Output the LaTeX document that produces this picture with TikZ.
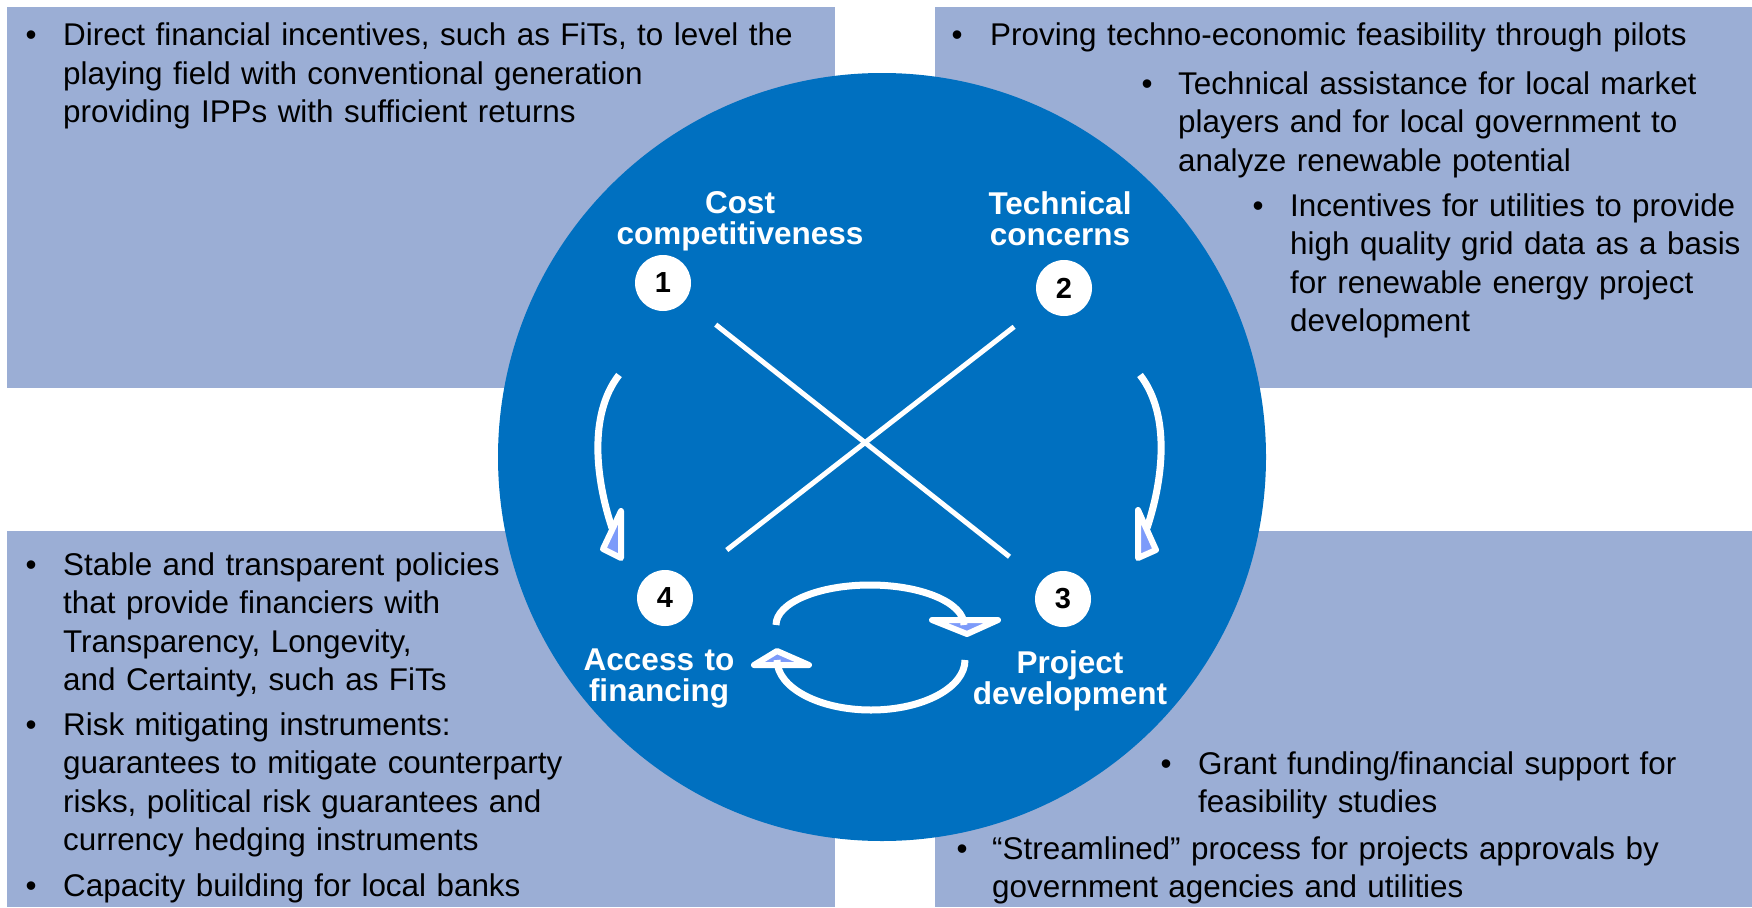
\documentclass[tikz,border=0pt]{standalone}
\usepackage{fontspec}
\setmainfont{Liberation Sans}

\definecolor{boxblue}{RGB}{155,174,213}
\definecolor{discblue}{RGB}{0,112,192}
\definecolor{tipblue}{RGB}{125,155,250}

\begin{document}
\begin{tikzpicture}[x=1pt,y=-1pt,
    panel/.style={fill=boxblue},
    item/.style={anchor=base west, inner sep=0pt, text width=800pt, align=left, font=\fontsize{31.4}{38.5}\selectfont},
    dot/.style={anchor=base, inner sep=0pt, font=\fontsize{31.4}{38.5}\selectfont},
    stage/.style={anchor=base, inner sep=0pt, text width=300pt, align=center, text=white, font=\fontsize{31.5}{31}\selectfont\bfseries},
    num/.style={circle, fill=white, minimum size=56pt, inner sep=0pt, font=\fontsize{29}{29}\selectfont\bfseries},
    link/.style={white, line width=5pt},
    curl/.style={white, line width=7pt},
    tiphead/.style={draw=white, fill=tipblue, line width=6pt, line join=round}]
    \useasboundingbox (0,0) rectangle (1752,907);
    \fill[panel] (7,7) rectangle (835,388);
    \fill[panel] (935,7) rectangle (1752,388);
    \fill[panel] (7,531) rectangle (835,907);
    \fill[panel] (935,531) rectangle (1752,907);
    \fill[discblue] (882,457) circle[radius=384];

    \node[dot] (tl1d) at (31,46) {\textbullet};
    \node[item] (tl1) at (63,46) {Direct financial incentives, such as FiTs, to level the\\playing field with conventional generation\\providing IPPs with sufficient returns};

    \node[dot] (tr1d) at (957,46) {\textbullet};
    \node[item] (tr1) at (990,46) {Proving techno-economic feasibility through pilots};
    \node[dot] (tr2d) at (1147,94) {\textbullet};
    \node[item] (tr2) at (1178,94) {Technical assistance for local market\\players and for local government to\\analyze renewable potential};
    \node[dot] (tr3d) at (1258,216) {\textbullet};
    \node[item] (tr3) at (1290,216) {Incentives for utilities to provide\\high quality grid data as a basis\\for renewable energy project\\development};

    \node[dot] (bl1d) at (31,575) {\textbullet};
    \node[item] (bl1) at (63,575) {Stable and transparent policies\\that provide financiers with\\Transparency, Longevity,\\and Certainty, such as FiTs};
    \node[dot] (bl2d) at (31,735) {\textbullet};
    \node[item] (bl2) at (63,735) {Risk mitigating instruments:\\guarantees to mitigate counterparty\\risks, political risk guarantees and\\currency hedging instruments};
    \node[dot] (bl3d) at (31,896) {\textbullet};
    \node[item] (bl3) at (63,896) {Capacity building for local banks};

    \node[dot] (br1d) at (1166,774) {\textbullet};
    \node[item] (br1) at (1198,774) {Grant funding/financial support for\\feasibility studies};
    \node[dot] (br2d) at (962,859) {\textbullet};
    \node[item] (br2) at (992,859) {“Streamlined” process for projects approvals by\\government agencies and utilities};

    \node[num] (n1) at (663,283) {1};
    \node[num] (n2) at (1064,288) {2};
    \node[num] (n3) at (1063,599) {3};
    \node[num] (n4) at (665,598) {4};
    \node[stage] (lab1) at (740,213) {Cost\\competitiveness};
    \node[stage] (lab2) at (1060,214) {Technical\\concerns};
    \node[stage] (lab3) at (1070,673) {Project\\development};
    \node[stage] (lab4) at (659,670) {Access to\\financing};

    \draw[link, shorten <=39pt, shorten >=40pt] (n1) -- (n3);
    \draw[link, shorten <=35pt, shorten >=50pt] (n2) -- (n4);

    \coordinate (l14) at (619,375);
    \coordinate (l41) at (612,528);
    \filldraw[tiphead] (621,511) -- (603,549) -- (621,558) -- cycle;
    \draw[curl] (l14) .. controls (588,415) and (596,480) .. (l41);
    \coordinate (r23) at (1140,375);
    \coordinate (r32) at (1147,528);
    \filldraw[tiphead] (1138,510) -- (1156,550) -- (1138,558) -- cycle;
    \draw[curl] (r23) .. controls (1171,415) and (1163,480) .. (r32);

    \coordinate (c43) at (776,625);
    \coordinate (c34) at (965,660);
    \filldraw[tiphead] (932,620) -- (998,620) -- (967,634) -- cycle;
    \draw[curl] (c43) arc[start angle=180, end angle=360, x radius=94, y radius=40];
    \filldraw[tiphead] (754,665) -- (809,665) -- (777,651) -- cycle;
    \draw[curl] (c34) arc[start angle=0, end angle=180, x radius=94, y radius=50];
\end{tikzpicture}
\end{document}
